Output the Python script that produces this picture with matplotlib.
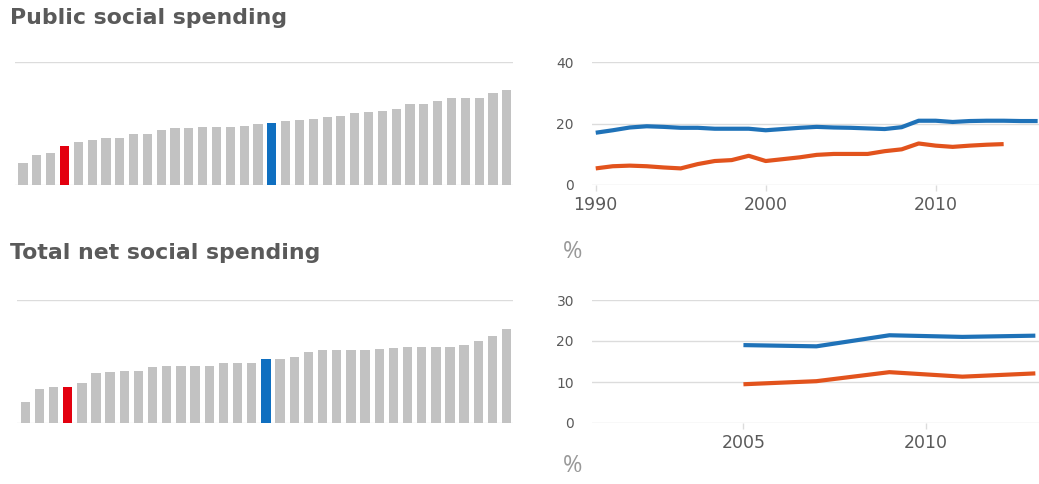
import matplotlib.pyplot as plt

# Bar charts: country values, latest year (%)
public_bars = [7.0, 9.6, 10.5, 12.8, 14.1, 14.5, 15.4, 15.4, 16.7, 16.7, 18.0, 18.4,
               18.4, 18.9, 18.9, 18.9, 19.3, 19.7, 20.3, 20.7, 21.1, 21.6, 22.0, 22.4,
               23.3, 23.7, 24.2, 24.6, 26.4, 26.4, 27.3, 28.2, 28.2, 28.2, 29.9, 30.8]
public_red_idx = 3
public_blue_idx = 18

net_bars = [5.1, 8.4, 8.8, 8.8, 9.7, 12.1, 12.4, 12.7, 12.7, 13.7, 14.0, 14.0,
            14.0, 14.0, 14.7, 14.7, 14.7, 15.7, 15.7, 16.1, 17.4, 17.7, 17.7, 17.7,
            17.7, 18.0, 18.3, 18.6, 18.6, 18.6, 18.6, 19.0, 20.0, 21.3, 22.9]
net_red_idx = 3
net_blue_idx = 17

# Time series, public social spending
years_pub = list(range(1990, 2017))
pub_blue = [17.0, 17.8, 18.7, 19.1, 18.9, 18.6, 18.6, 18.3, 18.3, 18.3, 17.8, 18.2,
            18.6, 18.9, 18.7, 18.6, 18.4, 18.2, 18.8, 20.9, 20.9, 20.5, 20.8, 20.9,
            20.9, 20.8, 20.8]
years_pub_red = list(range(1990, 2015))
pub_red = [5.4, 6.1, 6.3, 6.1, 5.7, 5.4, 6.8, 7.8, 8.1, 9.5, 7.8, 8.4, 9.0, 9.8,
           10.1, 10.1, 10.1, 11.0, 11.6, 13.5, 12.8, 12.4, 12.8, 13.1, 13.3]

# Time series, total net social spending
years_net = [2005, 2007, 2009, 2011, 2013]
net_blue = [19.0, 18.7, 21.4, 21.0, 21.3]
net_red = [9.45, 10.2, 12.4, 11.3, 12.1]

GREY = '#c2c2c2'
RED = '#e3000f'
BLUE = '#0f6fc0'
LINE_BLUE = '#1f72b8'
LINE_RED = '#e2531d'
TEXT = '#5a5a5a'
GRID = '#dcdcdc'

W, H = 1039, 484
fig = plt.figure(figsize=(W / 100, H / 100), dpi=100)


def box(x0, y0, x1, y1):
    return [x0 / W, 1 - y1 / H, (x1 - x0) / W, (y1 - y0) / H]


def bar_panel(rect, values, red_idx, blue_idx, ymax):
    ax = fig.add_axes(rect)
    colors = [GREY] * len(values)
    colors[red_idx] = RED
    colors[blue_idx] = BLUE
    ax.bar(range(len(values)), values, width=0.66, color=colors)
    ax.set_xlim(-0.58, len(values) - 0.55)
    ax.set_ylim(0, ymax)
    ax.axhline(ymax, color=GRID, lw=1, zorder=0)
    ax.axhline(0, color='#e6e6e6', lw=1, zorder=0)
    ax.axis('off')
    return ax


def line_panel(rect, xlim, yticks, xticks):
    ax = fig.add_axes(rect)
    ax.set_xlim(*xlim)
    ax.set_ylim(yticks[0], yticks[-1])
    for y in yticks:
        ax.axhline(y, color=GRID, lw=1, zorder=0)
    for s in ax.spines.values():
        s.set_visible(False)
    ax.set_yticks(yticks)
    ax.set_xticks(xticks)
    ax.tick_params(axis='y', length=0, pad=13, labelsize=10, labelcolor=TEXT)
    ax.tick_params(axis='x', length=4, width=1, color=GRID, pad=4,
                   labelsize=12.5, labelcolor=TEXT)
    return ax


bar_panel(box(15, 62, 513, 185), public_bars, public_red_idx, public_blue_idx, 40)
bar_panel(box(17, 300, 513, 423), net_bars, net_red_idx, net_blue_idx, 30)

ax1 = line_panel(box(592, 62, 1039, 185), (1989.78, 2016.08), [0, 20, 40], [1990, 2000, 2010])
ax1.plot(years_pub, pub_blue, color=LINE_BLUE, lw=3, solid_capstyle='butt', clip_on=False)
ax1.plot(years_pub_red, pub_red, color=LINE_RED, lw=3, solid_capstyle='butt', clip_on=False)

ax2 = line_panel(box(592, 300, 1039, 423), (2000.85, 2013.1), [0, 10, 20, 30], [2005, 2010])
ax2.plot(years_net, net_blue, color=LINE_BLUE, lw=3, solid_capstyle='butt', clip_on=False)
ax2.plot(years_net, net_red, color=LINE_RED, lw=3, solid_capstyle='butt', clip_on=False)

fig.text(10 / W, 1 - 18 / H, 'Public social spending', fontsize=15.8, fontweight='bold',
         color=TEXT, va='center', ha='left')
fig.text(10 / W, 1 - 253 / H, 'Total net social spending', fontsize=15.8, fontweight='bold',
         color=TEXT, va='center', ha='left')
fig.text(573 / W, 1 - 252 / H, '%', fontsize=17, color='#999999',
         family='Open Sans', va='center', ha='center')
fig.text(573 / W, 1 - 466 / H, '%', fontsize=17, color='#999999',
         family='Open Sans', va='center', ha='center')

fig.savefig('out.png', dpi=100, facecolor='white')
